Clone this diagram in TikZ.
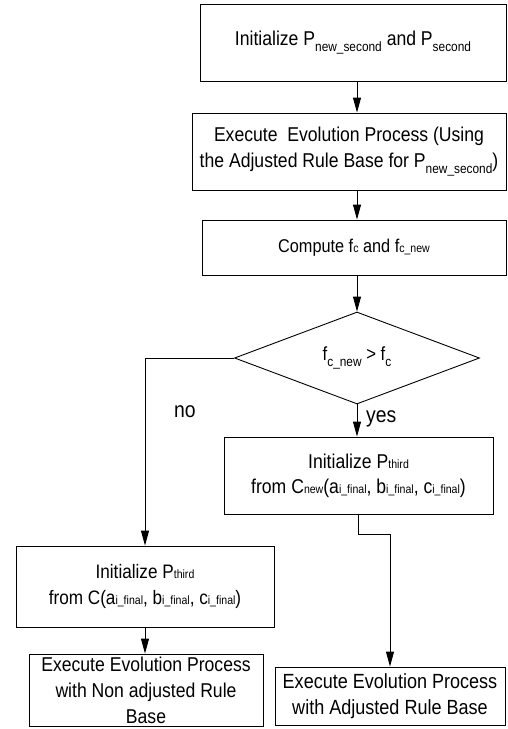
\documentclass[tikz,border=0pt]{standalone}
\usepackage{fontspec}
\setmainfont{Liberation Sans}[FakeStretch=0.88]
\usetikzlibrary{arrows.meta,shapes.geometric}
\newcommand\dn[1]{\raisebox{-0.55ex}{\fontsize{13.5}{13.5}\selectfont #1}}
\newcommand\bs[1]{{\fontsize{12}{12}\selectfont #1}}
\begin{document}
\begin{tikzpicture}[x=1pt,y=-1pt,
  box/.style={draw, line width=0.9pt, inner sep=0pt, align=center, font=\fontsize{20}{25}\selectfont},
  arr/.style={line width=0.9pt, -{Triangle[length=15pt,width=8pt]}},
  lbl/.style={font=\fontsize{22}{22}\selectfont, inner sep=0pt}]
\useasboundingbox (0,0) rectangle (507,729);
\node[box, minimum width=306pt, minimum height=77pt] (b1) at (353,42.5)
  {Initialize P\dn{new\_second} and P\dn{second}};
\node[box, minimum width=314pt, minimum height=77pt, font=\fontsize{20}{26}\selectfont] (b2) at (349,151.5)
  {Execute\ \ Evolution Process (Using\\the Adjusted Rule Base for P\dn{new\_second})};
\node[box, minimum width=304pt, minimum height=55pt, font=\fontsize{18.5}{22}\selectfont] (b3) at (354,247.5)
  {Compute f\bs{c} and f\bs{c\_new}};
\node[draw, line width=0.9pt, shape=diamond, aspect=2.66, inner sep=0pt,
  minimum width=245pt, minimum height=92pt, font=\fontsize{19}{22}\selectfont] (dia) at (357,358)
  {f\dn{c\_new} > f\dn{c}};
\node[box, minimum width=269pt, minimum height=77pt] (yes) at (358.5,475.5)
  {Initialize P\bs{third}\\from C\bs{new}(a\bs{i\_final}, b\bs{i\_final}, c\bs{i\_final})};
\node[box, minimum width=258pt, minimum height=81pt, font=\fontsize{19.5}{26}\selectfont] (no) at (145,586.5)
  {Initialize P\bs{third}\\from C(a\bs{i\_final}, b\bs{i\_final}, c\bs{i\_final})};
\node[box, minimum width=234pt, minimum height=72pt, font=\fontsize{20}{26}\selectfont] (el) at (146,690)
  {Execute Evolution Process\\with Non adjusted Rule\\Base};
\node[box, minimum width=230pt, minimum height=58pt, font=\fontsize{20.5}{26}\selectfont] (er) at (390,696)
  {Execute Evolution Process\\with Adjusted Rule Base};
\node[lbl] (nolbl) at (185,412) {no};
\node[lbl, anchor=west] (yeslbl) at (366,419) {yes};
\draw[arr] (b1.south -| dia.north) -- (b2.north -| dia.north);
\draw[arr] (b2.south -| dia.north) -- (b3.north -| dia.north);
\draw[arr] (b3.south -| dia.north) -- (dia.north);
\draw[arr] (dia.west) -| (no.north);
\draw[arr] (dia.south) -- (yes.north -| dia.south);
\draw[arr] (yes.south) -- ++(0,20) -| (er.north);
\draw[arr] (no.south) -- (el.north -| no.south);
\end{tikzpicture}
\end{document}
